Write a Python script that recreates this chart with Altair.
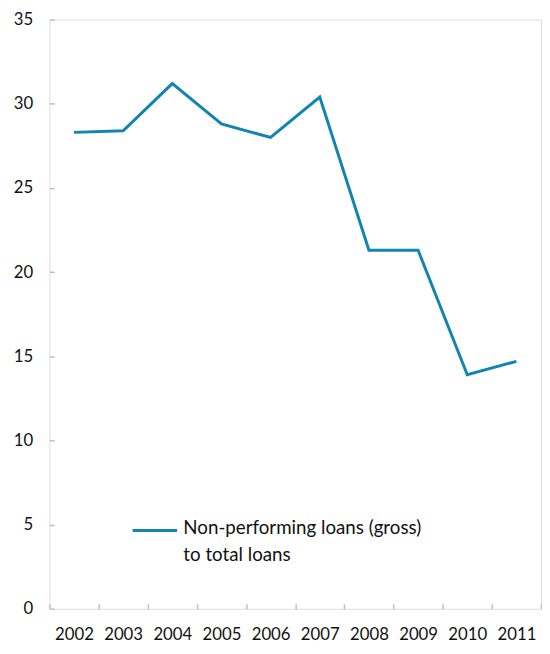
import altair as alt
import pandas as pd

years = ["2002", "2003", "2004", "2005", "2006", "2007", "2008", "2009", "2010", "2011"]
npl_ratio = [28.3, 28.4, 31.2, 28.8, 28.0, 30.4, 21.3, 21.3, 13.9, 14.7]
y_ticks = [0, 5, 10, 15, 20, 25, 30, 35]
series_name = "Non-performing loans (gross) to total loans"
legend_lines = ["Non-performing loans (gross)", "to total loans"]

df = pd.DataFrame({"year": years, "value": npl_ratio, "series": [series_name] * len(years)})

GRAY = "#bfbfbf"
LINE = "#1284b2"
FONT = "Lato"

line = alt.Chart(df).mark_line(strokeWidth=3, strokeJoin="miter").encode(
    x=alt.X(
        "year:O",
        scale=alt.Scale(type="band", paddingInner=0, paddingOuter=0),
        bandPosition=0.5,
        axis=alt.Axis(
            title=None, labelAngle=0, domain=False, grid=False,
            ticks=True, tickBand="extent", tickSize=5, offset=-5,
            tickColor=GRAY, tickWidth=1.5, labelPadding=18,
            labelFont=FONT, labelFontSize=17, labelColor="#111",
        ),
    ),
    y=alt.Y(
        "value:Q",
        scale=alt.Scale(domain=[0, 35], nice=False, zero=True),
        axis=alt.Axis(
            title=None, values=y_ticks, domain=False, grid=False,
            tickSize=5, offset=-5, tickColor=GRAY, tickWidth=1.5,
            labelPadding=17, labelFont=FONT, labelFontSize=17, labelColor="#111",
        ),
    ),
    color=alt.Color(
        "series:N",
        scale=alt.Scale(range=[LINE]),
        legend=alt.Legend(
            title=legend_lines, titleOrient="right", titleAnchor="start",
            titleBaseline="line-top", titleLineHeight=27, titleFont=FONT,
            titleFontSize=19, titleFontWeight="normal", titleColor="#111",
            titlePadding=0, titleLimit=0,
            orient="none", legendX=92, legendY=503.5, padding=0,
            symbolType="M-1.6667,0H1.6667", symbolSize=729, symbolStrokeWidth=3,
            symbolFillColor="transparent",
            labelOffset=0, labelExpr="''",
        ),
    ),
)

chart = line.properties(
    width=499, height=598,
    padding={"left": 42, "top": 7, "right": 1, "bottom": 33},
    autosize=alt.AutoSizeParams(type="none"),
).configure_view(stroke=GRAY, strokeWidth=2).configure(background="white")

chart.save("out.html", embed_options={"renderer": "svg", "actions": False})
